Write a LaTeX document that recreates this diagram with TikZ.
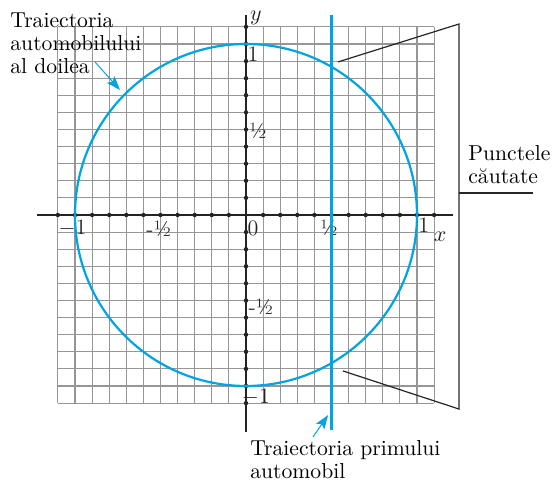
\documentclass[tikz,border=0pt]{standalone}
\usepackage{tikz}
\usetikzlibrary{arrows.meta,positioning,calc}
\usepackage{xcolor}
\definecolor{trackblue}{RGB}{0,164,226}
\definecolor{gridgray}{RGB}{150,150,150}
\definecolor{axisdark}{RGB}{35,35,35}
\tikzset{
  lbl/.style={font=\fontsize{10.8}{11.6}\selectfont, align=left, inner sep=0pt, anchor=north west},
  arrb/.style={-{Stealth[length=7pt,width=5pt,inset=1.5pt]}, line width=0.5pt, color=trackblue},
}
\begin{document}
\begin{tikzpicture}[x=3cm, y=3cm,
    tick/.style={font=\fontsize{11}{12}\selectfont, inner sep=0pt, text=axisdark},
    brk/.style={draw=black!85, line width=0.6pt},
    track/.style={draw=trackblue, line width=1.1pt}
  ]
    \useasboundingbox (-1.4386,-1.5497) rectangle (1.7953,1.2573);
    % grid and axes
    \foreach \i in {-11,...,11} {
      \draw[gridgray, line width=0.55pt] (\i/10,-1.1) -- (\i/10,1.1);
      \draw[gridgray, line width=0.55pt] (-1.1,\i/10) -- (1.1,\i/10);
    }
    \draw[axisdark, line width=0.8pt] (-1.22,0) -- (1.21,0);
    \draw[axisdark, line width=0.8pt] (0,-1.27) -- (0,1.17);
    \foreach \t in {-11,...,-1,1,2,...,11} {
      \fill[axisdark] (\t/10,0) circle (1.1pt);
      \fill[axisdark] (0,\t/10) circle (1.1pt);
    }
    % tick labels
    \node[tick] (ly)   at (0.058,1.152)   {$y$};
    \node[tick] (ly1)  at (0.041,0.942)   {1};
    \node[tick] (ly2)  at (0.070,0.491)   {½};
    \node[tick] (ly3)  at (0.088,-0.538)  {-½};
    \node[tick] (ly4)  at (0.058,-1.064)  {$-$1};
    \node[tick] (lx4)  at (-1.015,-0.076) {$-$1};
    \node[tick] (lx3)  at (-0.509,-0.082) {-½};
    \node[tick] (lx0)  at (0.041,-0.076)  {0};
    \node[tick] (lx2)  at (0.485,-0.076)  {½};
    \node[tick] (lx1)  at (1.040,-0.058)  {1};
    \node[tick] (lx)   at (1.135,-0.128)  {$x$};
    % trajectories
    \draw[track] (0,0) circle (1);
    \draw[track] (0.5,-1.26) -- (0.5,1.17);
    % labels
    \node[lbl] (doi) at (-1.380,1.187) {Traiectoria\\automobilului\\al doilea};
    \node[lbl] (pri) at (0.023,-1.316) {Traiectoria primului\\automobil};
    \node[lbl] (pct) at (1.298,0.409)  {Punctele\\căutate};
    \coordinate (doiT) at (-0.883,0.895);
    \coordinate (doiH) at (-0.737,0.731);
    \coordinate (priT) at (0.392,-1.298);
    \coordinate (priH) at (0.480,-1.170);
    \draw[arrb] (doiT) -- (doiH);
    \draw[arrb] (priT) -- (priH);
    % bracket to the two points
    \coordinate (bTop) at (1.246,1.117);
    \coordinate (bBot) at (1.246,-1.135);
    \coordinate (bMid) at (1.246,0.129);
    \coordinate (bEnd) at (1.678,0.129);
    \coordinate (pUp)  at (0.538,0.895);
    \coordinate (pDn)  at (0.567,-0.912);
    \draw[brk] (pUp) -- (bTop) -- (bBot) -- (pDn);
    \draw[brk] (bMid) -- (bEnd);
  \end{tikzpicture}
\end{document}
